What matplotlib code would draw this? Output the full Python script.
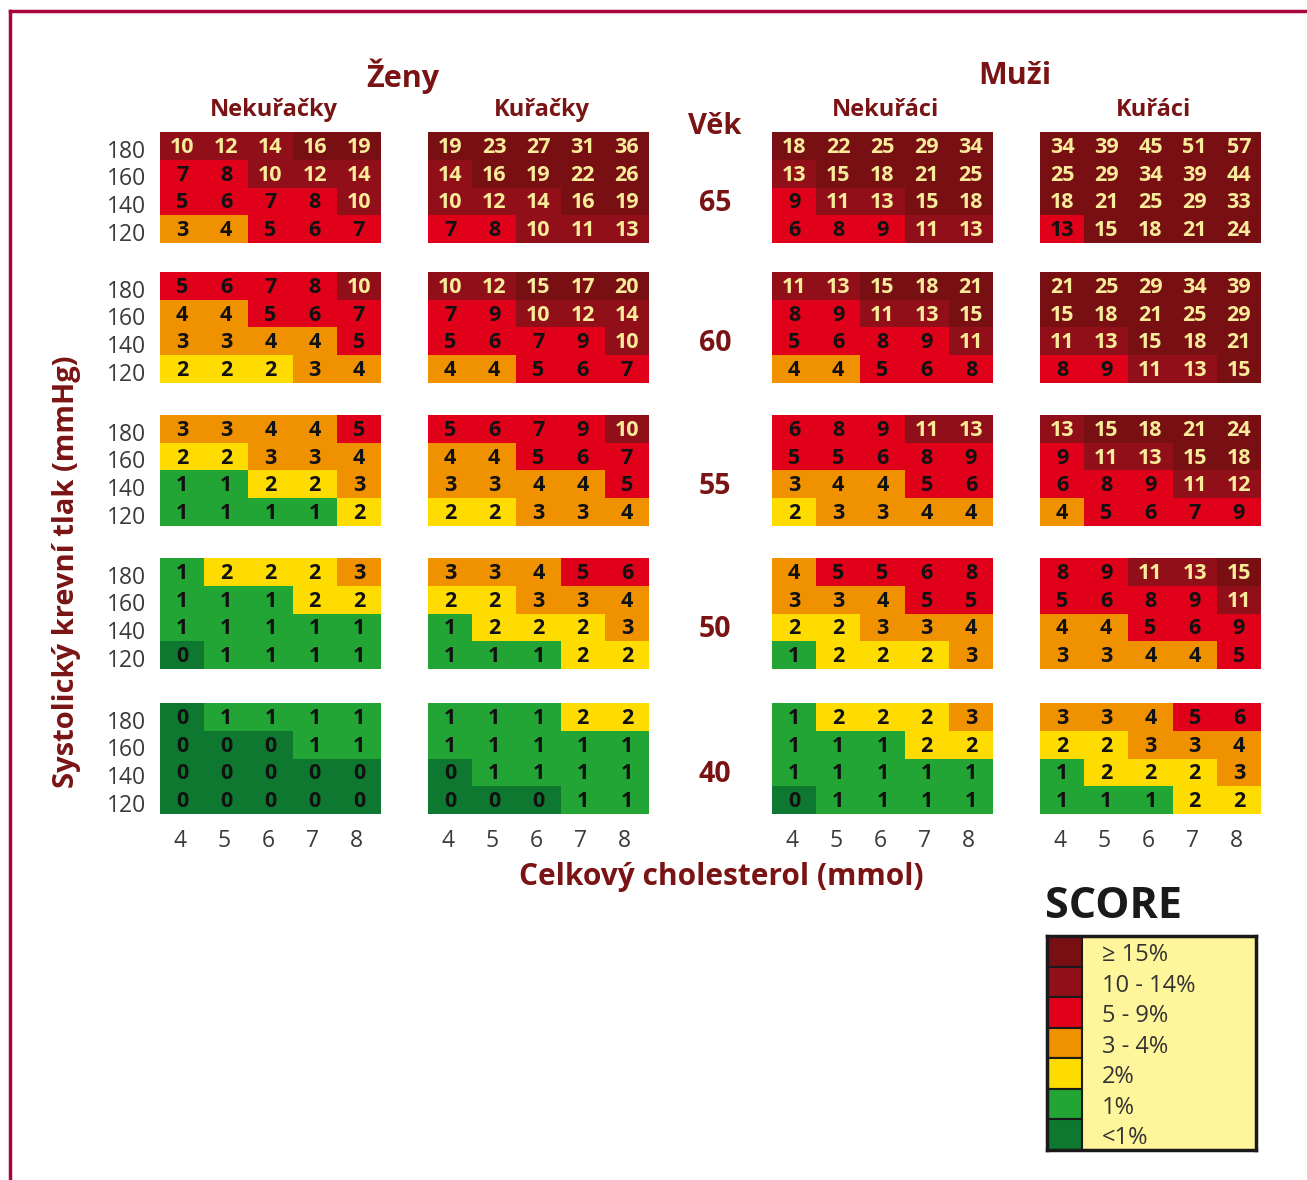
import numpy as np
import matplotlib
matplotlib.use("Agg")
import matplotlib.pyplot as plt
from matplotlib.colors import ListedColormap, BoundaryNorm
from matplotlib.lines import Line2D

plt.rcParams['font.family'] = ['Open Sans', 'DejaVu Sans']

# ---------------- data ----------------
ages = [65, 60, 55, 50, 40]
sbp_labels = ["180", "160", "140", "120"]
chol_labels = ["4", "5", "6", "7", "8"]
groups = ["Ženy", "Muži"]
subgroups = ["Nekuřačky", "Kuřačky", "Nekuřáci", "Kuřáci"]

zeny_nekuracky = [
    [[10, 12, 14, 16, 19], [7, 8, 10, 12, 14], [5, 6, 7, 8, 10], [3, 4, 5, 6, 7]],
    [[5, 6, 7, 8, 10], [4, 4, 5, 6, 7], [3, 3, 4, 4, 5], [2, 2, 2, 3, 4]],
    [[3, 3, 4, 4, 5], [2, 2, 3, 3, 4], [1, 1, 2, 2, 3], [1, 1, 1, 1, 2]],
    [[1, 2, 2, 2, 3], [1, 1, 1, 2, 2], [1, 1, 1, 1, 1], [0, 1, 1, 1, 1]],
    [[0, 1, 1, 1, 1], [0, 0, 0, 1, 1], [0, 0, 0, 0, 0], [0, 0, 0, 0, 0]],
]
zeny_kuracky = [
    [[19, 23, 27, 31, 36], [14, 16, 19, 22, 26], [10, 12, 14, 16, 19], [7, 8, 10, 11, 13]],
    [[10, 12, 15, 17, 20], [7, 9, 10, 12, 14], [5, 6, 7, 9, 10], [4, 4, 5, 6, 7]],
    [[5, 6, 7, 9, 10], [4, 4, 5, 6, 7], [3, 3, 4, 4, 5], [2, 2, 3, 3, 4]],
    [[3, 3, 4, 5, 6], [2, 2, 3, 3, 4], [1, 2, 2, 2, 3], [1, 1, 1, 2, 2]],
    [[1, 1, 1, 2, 2], [1, 1, 1, 1, 1], [0, 1, 1, 1, 1], [0, 0, 0, 1, 1]],
]
muzi_nekuraci = [
    [[18, 22, 25, 29, 34], [13, 15, 18, 21, 25], [9, 11, 13, 15, 18], [6, 8, 9, 11, 13]],
    [[11, 13, 15, 18, 21], [8, 9, 11, 13, 15], [5, 6, 8, 9, 11], [4, 4, 5, 6, 8]],
    [[6, 8, 9, 11, 13], [5, 5, 6, 8, 9], [3, 4, 4, 5, 6], [2, 3, 3, 4, 4]],
    [[4, 5, 5, 6, 8], [3, 3, 4, 5, 5], [2, 2, 3, 3, 4], [1, 2, 2, 2, 3]],
    [[1, 2, 2, 2, 3], [1, 1, 1, 2, 2], [1, 1, 1, 1, 1], [0, 1, 1, 1, 1]],
]
muzi_kuraci = [
    [[34, 39, 45, 51, 57], [25, 29, 34, 39, 44], [18, 21, 25, 29, 33], [13, 15, 18, 21, 24]],
    [[21, 25, 29, 34, 39], [15, 18, 21, 25, 29], [11, 13, 15, 18, 21], [8, 9, 11, 13, 15]],
    [[13, 15, 18, 21, 24], [9, 11, 13, 15, 18], [6, 8, 9, 11, 12], [4, 5, 6, 7, 9]],
    [[8, 9, 11, 13, 15], [5, 6, 8, 9, 11], [4, 4, 5, 6, 9], [3, 3, 4, 4, 5]],
    [[3, 3, 4, 5, 6], [2, 2, 3, 3, 4], [1, 2, 2, 2, 3], [1, 1, 1, 2, 2]],
]
panels = [zeny_nekuracky, zeny_kuracky, muzi_nekuraci, muzi_kuraci]

# colour class overrides as printed in the original (panel, age index, row, col) -> class
overrides = {(3, 0, 3, 0): 4}

legend_labels = ["≥ 15%", "10 - 14%", "5 - 9%", "3 - 4%", "2%", "1%", "<1%"]
class_colors = ["#0e7830", "#22a534", "#ffdc00", "#f09100", "#e10019", "#910f19", "#780f12"]
legend_classes = [6, 5, 4, 3, 2, 1, 0]

# ---------------- helpers ----------------
W, H = 1307, 1180
DARK = "#7a1414"
LIGHT_TXT = "#f8ec9a"


def fx(p):
    return p / W


def fy(p):
    return 1 - p / H


def score_class(v):
    if v < 1:
        return 0
    if v == 1:
        return 1
    if v == 2:
        return 2
    if v <= 4:
        return 3
    if v <= 9:
        return 4
    if v <= 14:
        return 5
    return 6


cmap = ListedColormap(class_colors)
norm = BoundaryNorm(np.arange(-0.5, 7.5, 1), cmap.N)

fig = plt.figure(figsize=(W / 100, H / 100), dpi=100)

panel_x = [160, 428, 772, 1040]
panel_w = 221
panel_y = [132, 272, 415, 558, 703]
panel_h = 111

for g, pdata in enumerate(panels):
    for a, table in enumerate(pdata):
        vals = np.array(table)
        cls = np.vectorize(score_class)(vals)
        for (pg, pa, r, c), k in overrides.items():
            if pg == g and pa == a:
                cls[r, c] = k
        ax = fig.add_axes([fx(panel_x[g]), fy(panel_y[a] + panel_h), fx(panel_w), panel_h / H])
        ax.pcolormesh(np.arange(6), np.arange(5), cls, cmap=cmap, norm=norm, edgecolor='none')
        ax.set_xlim(0, 5)
        ax.set_ylim(4, 0)
        for r in range(4):
            for c in range(5):
                col = LIGHT_TXT if cls[r, c] >= 5 else "#111111"
                ax.text(c + 0.5, r + 0.55, str(vals[r, c]), ha='center', va='center',
                        fontsize=15.5, fontweight='bold', color=col)
        for s in ax.spines.values():
            s.set_visible(False)
        ax.tick_params(length=0, labelsize=16.5, labelcolor="#3a3a3a")
        if g == 0:
            ax.set_yticks(np.arange(4) + 0.6)
            ax.set_yticklabels(sbp_labels)
            ax.tick_params(axis='y', pad=10)
        else:
            ax.set_yticks([])
        if a == len(pdata) - 1:
            ax.set_xticks(np.arange(5) + 0.45)
            ax.set_xticklabels(chol_labels)
            ax.tick_params(axis='x', pad=11)
        else:
            ax.set_xticks([])

# age labels
for a, age in enumerate(ages):
    fig.text(fx(715), fy(panel_y[a] + panel_h / 2 + 16), str(age), ha='center', va='center',
             fontsize=20.5, fontweight='bold', color=DARK)
fig.text(fx(715), fy(127), "Věk", ha='center', va='center', fontsize=21, fontweight='bold', color=DARK)

# headers
fig.text(fx(403), fy(76), groups[0], ha='center', va='center', fontsize=22, fontweight='bold', color=DARK)
fig.text(fx(1015), fy(76), groups[1], ha='center', va='center', fontsize=22, fontweight='bold', color=DARK)
for g, name in enumerate(subgroups):
    fig.text(fx(panel_x[g] + panel_w / 2 + 3), fy(110), name, ha='center', va='center',
             fontsize=17, fontweight='bold', color=DARK)

# axis titles
fig.text(fx(721), fy(877), "Celkový cholesterol (mmol)", ha='center', va='center',
         fontsize=21.5, fontweight='bold', color=DARK)
fig.text(fx(67), fy(572), "Systolický krevní tlak (mmHg)", ha='center', va='center',
         rotation=90, fontsize=21, fontweight='bold', color=DARK)

# SCORE legend
fig.text(fx(1045), fy(907), "SCORE", ha='left', va='center', fontsize=31, fontweight='bold', color="#1a1a1a")
lx0, ly0, lx1, ly1 = 1047, 936, 1256, 1150
lax = fig.add_axes([fx(lx0), fy(ly1), fx(lx1 - lx0), (ly1 - ly0) / H])
lax.set_facecolor("#fff59a")
lax.set_xlim(0, lx1 - lx0)
lax.set_ylim(len(legend_labels), 0)
sw = 35
lax.barh(np.arange(len(legend_classes)) + 0.5, [sw] * len(legend_classes), height=1.0,
         color=[class_colors[k] for k in legend_classes], edgecolor="#1a1a1a", linewidth=1.5)
for i, lab in enumerate(legend_labels):
    lax.text(55, i + 0.62, lab, ha='left', va='center', fontsize=17, color="#333333")
lax.set_xticks([])
lax.set_yticks([])
for s in lax.spines.values():
    s.set_linewidth(2.5)
    s.set_color("#1a1a1a")

# page frame (left and top edges)
frame_col = "#a8063c"
fig.add_artist(Line2D([fx(10), fx(10)], [0, fy(11)], color=frame_col, linewidth=2.5, transform=fig.transFigure))
fig.add_artist(Line2D([fx(10), 1], [fy(11), fy(11)], color=frame_col, linewidth=2.5, transform=fig.transFigure))

fig.savefig("out.png", dpi=100)
